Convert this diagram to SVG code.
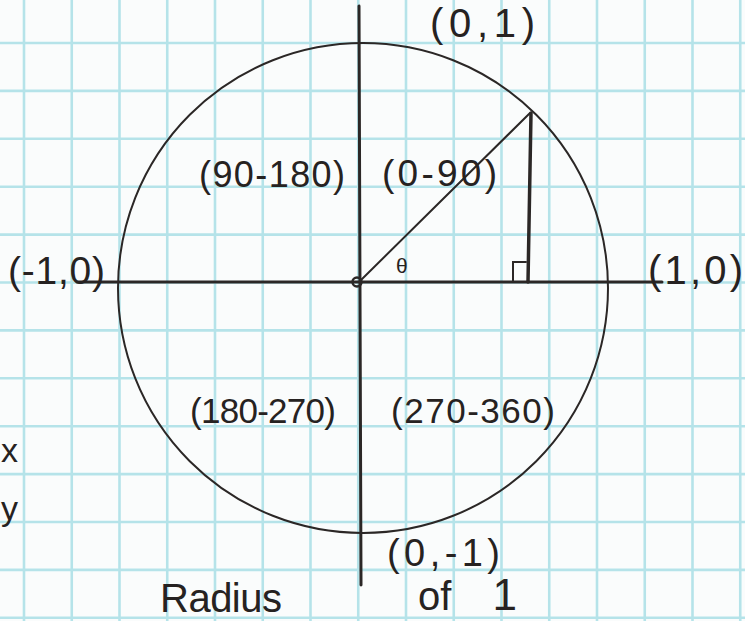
<svg xmlns="http://www.w3.org/2000/svg" width="745" height="621" viewBox="0 0 745 621">
<style>
.grid line{stroke:#b5e3e9;stroke-width:2.6}
.ink{stroke:#2b2726;fill:none;stroke-linecap:round}
.t{font-family:"Liberation Sans","DejaVu Sans",sans-serif;fill:#262221}
</style>
<rect x="0" y="0" width="745" height="621" fill="#fafcfc"/>
<g class="grid">
<line x1="24" y1="0" x2="24" y2="621"/>
<line x1="71.75" y1="0" x2="71.75" y2="621"/>
<line x1="119.5" y1="0" x2="119.5" y2="621"/>
<line x1="167.25" y1="0" x2="167.25" y2="621"/>
<line x1="215" y1="0" x2="215" y2="621"/>
<line x1="262.75" y1="0" x2="262.75" y2="621"/>
<line x1="310.5" y1="0" x2="310.5" y2="621"/>
<line x1="358.25" y1="0" x2="358.25" y2="621"/>
<line x1="406" y1="0" x2="406" y2="621"/>
<line x1="453.75" y1="0" x2="453.75" y2="621"/>
<line x1="501.5" y1="0" x2="501.5" y2="621"/>
<line x1="549.25" y1="0" x2="549.25" y2="621"/>
<line x1="597" y1="0" x2="597" y2="621"/>
<line x1="644.75" y1="0" x2="644.75" y2="621"/>
<line x1="692.5" y1="0" x2="692.5" y2="621"/>
<line x1="740.25" y1="0" x2="740.25" y2="621"/>
<line x1="0" y1="43" x2="745" y2="43"/>
<line x1="0" y1="90.9" x2="745" y2="90.9"/>
<line x1="0" y1="138.8" x2="745" y2="138.8"/>
<line x1="0" y1="186.7" x2="745" y2="186.7"/>
<line x1="0" y1="234.6" x2="745" y2="234.6"/>
<line x1="0" y1="282.5" x2="745" y2="282.5"/>
<line x1="0" y1="330.4" x2="745" y2="330.4"/>
<line x1="0" y1="378.3" x2="745" y2="378.3"/>
<line x1="0" y1="426.2" x2="745" y2="426.2"/>
<line x1="0" y1="474.1" x2="745" y2="474.1"/>
<line x1="0" y1="522" x2="745" y2="522"/>
<line x1="0" y1="569.9" x2="745" y2="569.9"/>
<line x1="0" y1="617.8" x2="745" y2="617.8"/>
</g>
<g id="circle">
<circle class="ink" cx="363" cy="288" r="245" stroke-width="2"/>
</g>
<g id="axes">
<line class="ink" x1="77" y1="282" x2="662" y2="282" stroke-width="3"/>
<line class="ink" x1="359" y1="6" x2="361" y2="585" stroke-width="3"/>
<circle class="ink" cx="357" cy="282" r="4.5" stroke-width="2.5"/>
</g>
<g id="triangle">
<line class="ink" x1="359" y1="282" x2="530" y2="113" stroke-width="2"/>
<line class="ink" x1="531" y1="113" x2="528" y2="282" stroke-width="3.5"/>
<polyline class="ink" points="513,282 513,262 526,262" stroke-width="2"/>
</g>
<g id="labels">
<text class="t" x="430" y="37" font-size="40" textLength="105" lengthAdjust="spacing">(0,1)</text>
<text class="t" x="199" y="187" font-size="36" textLength="146" lengthAdjust="spacing">(90-180)</text>
<text class="t" x="382" y="186" font-size="37" textLength="115" lengthAdjust="spacing">(0-90)</text>
<text class="t" x="396" y="273" font-size="21">θ</text>
<text class="t" x="8" y="284" font-size="39" textLength="97" lengthAdjust="spacing">(-1,0)</text>
<text class="t" x="648" y="284" font-size="40" textLength="95" lengthAdjust="spacing">(1,0)</text>
<text class="t" x="190" y="423" font-size="35" textLength="146" lengthAdjust="spacing">(180-270)</text>
<text class="t" x="391" y="423" font-size="35" textLength="164" lengthAdjust="spacing">(270-360)</text>
<text class="t" x="387" y="566" font-size="38" textLength="113" lengthAdjust="spacing">(0,-1)</text>
<text class="t" x="160" y="612" font-size="40" textLength="122" lengthAdjust="spacing">Radius</text>
<text class="t" x="418" y="610" font-size="40" word-spacing="30">of <tspan font-size="44">1</tspan></text>
<text class="t" x="1" y="462" font-size="34">x</text>
<text class="t" x="1" y="520" font-size="34">y</text>
</g>
</svg>
